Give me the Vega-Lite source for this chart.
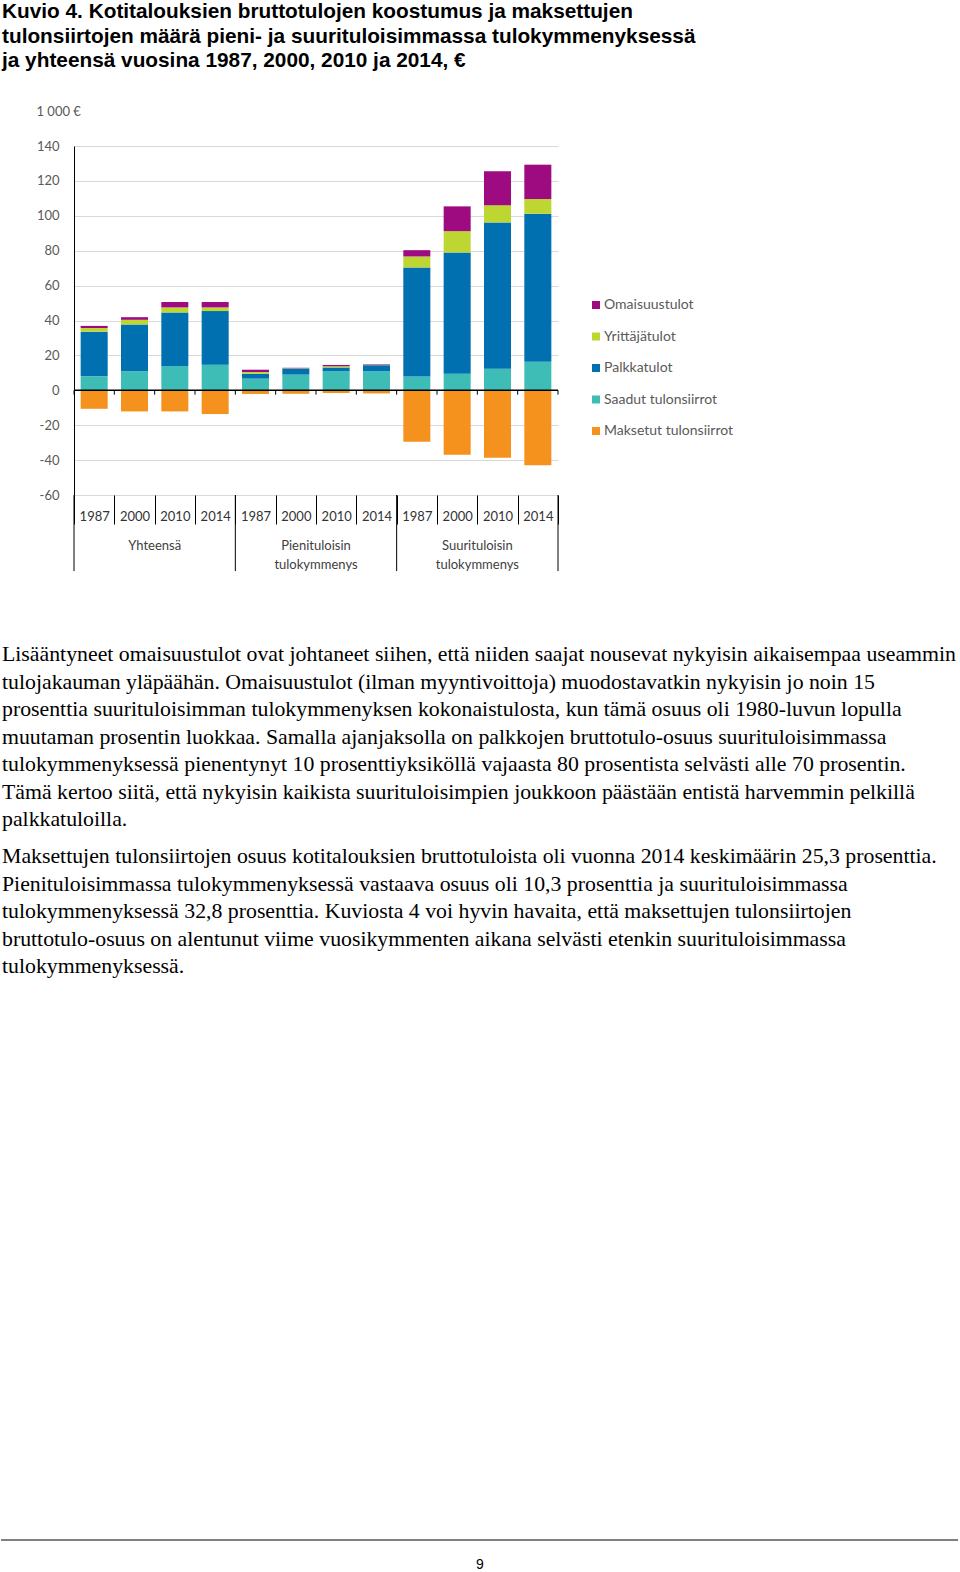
{
  "$schema": "https://vega.github.io/schema/vega-lite/v6.json",
  "background": "white",
  "padding": {"left": 0, "top": 1, "right": 0, "bottom": 0},
  "title": {
    "text": ["Kuvio 4. Kotitalouksien bruttotulojen koostumus ja maksettujen", "tulonsiirtojen määrä pieni- ja suurituloisimmassa tulokymmenyksessä", "ja yhteensä vuosina 1987, 2000, 2010 ja 2014, €"],
    "anchor": "start", "frame": "bounds", "dx": 2, "font": "Liberation Sans", "fontSize": 20.8, "fontWeight": "bold", "color": "black", "lineHeight": 24.5, "offset": 33
  },
  "datasets": {
    "bars": [
      {"key": "Yhteensä 1987", "component": "Saadut tulonsiirrot", "ord": 1, "value": 8.0},
      {"key": "Yhteensä 1987", "component": "Palkkatulot", "ord": 2, "value": 25.6},
      {"key": "Yhteensä 1987", "component": "Yrittäjätulot", "ord": 3, "value": 2.1},
      {"key": "Yhteensä 1987", "component": "Omaisuustulot", "ord": 4, "value": 1.2},
      {"key": "Yhteensä 1987", "component": "Maksetut tulonsiirrot", "ord": 5, "value": -10.6},
      {"key": "Yhteensä 2000", "component": "Saadut tulonsiirrot", "ord": 1, "value": 10.9},
      {"key": "Yhteensä 2000", "component": "Palkkatulot", "ord": 2, "value": 26.8},
      {"key": "Yhteensä 2000", "component": "Yrittäjätulot", "ord": 3, "value": 2.7},
      {"key": "Yhteensä 2000", "component": "Omaisuustulot", "ord": 4, "value": 1.5},
      {"key": "Yhteensä 2000", "component": "Maksetut tulonsiirrot", "ord": 5, "value": -12.1},
      {"key": "Yhteensä 2010", "component": "Saadut tulonsiirrot", "ord": 1, "value": 13.8},
      {"key": "Yhteensä 2010", "component": "Palkkatulot", "ord": 2, "value": 30.8},
      {"key": "Yhteensä 2010", "component": "Yrittäjätulot", "ord": 3, "value": 2.9},
      {"key": "Yhteensä 2010", "component": "Omaisuustulot", "ord": 4, "value": 3.1},
      {"key": "Yhteensä 2010", "component": "Maksetut tulonsiirrot", "ord": 5, "value": -12.1},
      {"key": "Yhteensä 2014", "component": "Saadut tulonsiirrot", "ord": 1, "value": 14.7},
      {"key": "Yhteensä 2014", "component": "Palkkatulot", "ord": 2, "value": 30.7},
      {"key": "Yhteensä 2014", "component": "Yrittäjätulot", "ord": 3, "value": 2.1},
      {"key": "Yhteensä 2014", "component": "Omaisuustulot", "ord": 4, "value": 3.1},
      {"key": "Yhteensä 2014", "component": "Maksetut tulonsiirrot", "ord": 5, "value": -13.6},
      {"key": "Pienituloisin 1987", "component": "Saadut tulonsiirrot", "ord": 1, "value": 6.7},
      {"key": "Pienituloisin 1987", "component": "Palkkatulot", "ord": 2, "value": 2.8},
      {"key": "Pienituloisin 1987", "component": "Yrittäjätulot", "ord": 3, "value": 1.0},
      {"key": "Pienituloisin 1987", "component": "Omaisuustulot", "ord": 4, "value": 1.3},
      {"key": "Pienituloisin 1987", "component": "Maksetut tulonsiirrot", "ord": 5, "value": -2.1},
      {"key": "Pienituloisin 2000", "component": "Saadut tulonsiirrot", "ord": 1, "value": 9.0},
      {"key": "Pienituloisin 2000", "component": "Palkkatulot", "ord": 2, "value": 3.4},
      {"key": "Pienituloisin 2000", "component": "Yrittäjätulot", "ord": 3, "value": 0.2},
      {"key": "Pienituloisin 2000", "component": "Omaisuustulot", "ord": 4, "value": 0.3},
      {"key": "Pienituloisin 2000", "component": "Maksetut tulonsiirrot", "ord": 5, "value": -2.0},
      {"key": "Pienituloisin 2010", "component": "Saadut tulonsiirrot", "ord": 1, "value": 10.9},
      {"key": "Pienituloisin 2010", "component": "Palkkatulot", "ord": 2, "value": 2.2},
      {"key": "Pienituloisin 2010", "component": "Yrittäjätulot", "ord": 3, "value": 0.7},
      {"key": "Pienituloisin 2010", "component": "Omaisuustulot", "ord": 4, "value": 0.7},
      {"key": "Pienituloisin 2010", "component": "Maksetut tulonsiirrot", "ord": 5, "value": -1.6},
      {"key": "Pienituloisin 2014", "component": "Saadut tulonsiirrot", "ord": 1, "value": 10.9},
      {"key": "Pienituloisin 2014", "component": "Palkkatulot", "ord": 2, "value": 3.5},
      {"key": "Pienituloisin 2014", "component": "Yrittäjätulot", "ord": 3, "value": 0.2},
      {"key": "Pienituloisin 2014", "component": "Omaisuustulot", "ord": 4, "value": 0.3},
      {"key": "Pienituloisin 2014", "component": "Maksetut tulonsiirrot", "ord": 5, "value": -1.8},
      {"key": "Suurituloisin 1987", "component": "Saadut tulonsiirrot", "ord": 1, "value": 7.9},
      {"key": "Suurituloisin 1987", "component": "Palkkatulot", "ord": 2, "value": 62.5},
      {"key": "Suurituloisin 1987", "component": "Yrittäjätulot", "ord": 3, "value": 6.3},
      {"key": "Suurituloisin 1987", "component": "Omaisuustulot", "ord": 4, "value": 3.6},
      {"key": "Suurituloisin 1987", "component": "Maksetut tulonsiirrot", "ord": 5, "value": -29.5},
      {"key": "Suurituloisin 2000", "component": "Saadut tulonsiirrot", "ord": 1, "value": 9.5},
      {"key": "Suurituloisin 2000", "component": "Palkkatulot", "ord": 2, "value": 69.5},
      {"key": "Suurituloisin 2000", "component": "Yrittäjätulot", "ord": 3, "value": 12.2},
      {"key": "Suurituloisin 2000", "component": "Omaisuustulot", "ord": 4, "value": 14.2},
      {"key": "Suurituloisin 2000", "component": "Maksetut tulonsiirrot", "ord": 5, "value": -36.9},
      {"key": "Suurituloisin 2010", "component": "Saadut tulonsiirrot", "ord": 1, "value": 12.4},
      {"key": "Suurituloisin 2010", "component": "Palkkatulot", "ord": 2, "value": 83.8},
      {"key": "Suurituloisin 2010", "component": "Yrittäjätulot", "ord": 3, "value": 9.9},
      {"key": "Suurituloisin 2010", "component": "Omaisuustulot", "ord": 4, "value": 19.4},
      {"key": "Suurituloisin 2010", "component": "Maksetut tulonsiirrot", "ord": 5, "value": -38.6},
      {"key": "Suurituloisin 2014", "component": "Saadut tulonsiirrot", "ord": 1, "value": 16.3},
      {"key": "Suurituloisin 2014", "component": "Palkkatulot", "ord": 2, "value": 84.9},
      {"key": "Suurituloisin 2014", "component": "Yrittäjätulot", "ord": 3, "value": 8.4},
      {"key": "Suurituloisin 2014", "component": "Omaisuustulot", "ord": 4, "value": 19.7},
      {"key": "Suurituloisin 2014", "component": "Maksetut tulonsiirrot", "ord": 5, "value": -42.9}
    ],
    "groups": [
      {"key": "Yhteensä 2000", "label": "Yhteensä"},
      {"key": "Pienituloisin 2000", "label": "Pienituloisin\ntulokymmenys"},
      {"key": "Suurituloisin 2000", "label": "Suurituloisin\ntulokymmenys"}
    ],
    "groupStarts": [
      {"key": "Yhteensä 1987"},
      {"key": "Pienituloisin 1987"},
      {"key": "Suurituloisin 1987"}
    ],
    "lastKey": [
      {"key": "Suurituloisin 2014"}
    ]
  },
  "resolve": {"scale": {"x": "independent", "y": "independent"}, "legend": {"color": "independent"}},
  "spacing": 560,
  "vconcat": [
    {
      "width": 484,
      "height": 349,
      "title": {
        "text": [
          "Lisääntyneet omaisuustulot ovat johtaneet siihen, että niiden saajat nousevat nykyisin aikaisempaa useammin",
          "tulojakauman yläpäähän. Omaisuustulot (ilman myyntivoittoja) muodostavatkin nykyisin jo noin 15",
          "prosenttia suurituloisimman tulokymmenyksen kokonaistulosta, kun tämä osuus oli 1980-luvun lopulla",
          "muutaman prosentin luokkaa. Samalla ajanjaksolla on palkkojen bruttotulo-osuus suurituloisimmassa",
          "tulokymmenyksessä pienentynyt 10 prosenttiyksiköllä vajaasta 80 prosentista selvästi alle 70 prosentin.",
          "Tämä kertoo siitä, että nykyisin kaikista suurituloisimpien joukkoon päästään entistä harvemmin pelkillä",
          "palkkatuloilla."
        ],
        "subtitle": [
          "Maksettujen tulonsiirtojen osuus kotitalouksien bruttotuloista oli vuonna 2014 keskimäärin 25,3 prosenttia.",
          "Pienituloisimmassa tulokymmenyksessä vastaava osuus oli 10,3 prosenttia ja suurituloisimmassa",
          "tulokymmenyksessä 32,8 prosenttia. Kuviosta 4 voi hyvin havaita, että maksettujen tulonsiirtojen",
          "bruttotulo-osuus on alentunut viime vuosikymmenten aikana selvästi etenkin suurituloisimmassa",
          "tulokymmenyksessä."
        ],
        "orient": "bottom", "anchor": "start", "frame": "group", "dx": -72, "offset": 72,
        "font": "Liberation Serif", "fontSize": 21.8, "fontWeight": "normal", "color": "black", "lineHeight": 27.5,
        "subtitleFont": "Liberation Serif", "subtitleFontSize": 21.8, "subtitleColor": "black", "subtitleLineHeight": 27.5, "subtitlePadding": 15.5
      },
      "layer": [
        {
          "data": {"name": "bars"},
          "mark": {"type": "bar", "width": {"band": 0.67}},
          "encoding": {
            "x": {
              "field": "key", "type": "nominal",
              "scale": {"domain": ["Yhteensä 1987", "Yhteensä 2000", "Yhteensä 2010", "Yhteensä 2014", "Pienituloisin 1987", "Pienituloisin 2000", "Pienituloisin 2010", "Pienituloisin 2014", "Suurituloisin 1987", "Suurituloisin 2000", "Suurituloisin 2010", "Suurituloisin 2014"], "paddingInner": 0, "paddingOuter": 0},
              "axis": {"title": null, "labelExpr": "slice(datum.label, -4)", "tickBand": "extent", "tickSize": 29, "tickColor": "black", "domain": false, "grid": false, "labelAngle": 0, "labelFont": "Lato", "labelFontSize": 13, "labelColor": "#333333", "labelPadding": -14, "labelBaseline": "top"}
            },
            "y": {
              "field": "value", "type": "quantitative", "stack": "zero",
              "scale": {"domain": [-60, 140], "nice": false, "zero": false},
              "axis": {"title": "1 000 €", "titleAngle": 0, "titleAlign": "left", "titleBaseline": "middle", "titleX": -38, "titleY": -35, "titleFont": "Lato", "titleFontSize": 13, "titleFontWeight": "normal", "titleColor": "#595959", "values": [-60, -40, -20, 0, 20, 40, 60, 80, 100, 120, 140], "tickCount": 11, "labelOverlap": false, "labelExpr": "replace(datum.label, '−', '-')", "ticks": false, "labelPadding": 15, "labelFont": "Lato", "labelFontSize": 13, "labelColor": "#595959", "domainColor": "black", "domainWidth": 1, "grid": true, "gridColor": "#d9d9d9"}
            },
            "color": {
              "field": "component", "type": "nominal",
              "scale": {"domain": ["Omaisuustulot", "Yrittäjätulot", "Palkkatulot", "Saadut tulonsiirrot", "Maksetut tulonsiirrot"], "range": ["#9e0a80", "#bdd631", "#0070b0", "#3dbdb6", "#f5921e"]},
              "legend": {"title": null, "orient": "none", "legendX": 515, "legendY": 152, "symbolType": "square", "symbolSize": 64, "symbolStrokeWidth": 0, "labelFont": "Lato", "labelFontSize": 14, "labelColor": "#595959", "rowPadding": 17.5, "labelOffset": 1}
            },
            "order": {"field": "ord", "type": "quantitative"}
          }
        },
        {
          "data": {"values": [{}]},
          "mark": {"type": "rule", "color": "black", "strokeWidth": 1.5},
          "encoding": {"y": {"datum": 0}}
        },
        {
          "data": {"name": "bars"},
          "transform": [{"filter": "datum.ord == 1"}],
          "mark": {"type": "rule", "color": "black"},
          "encoding": {"x": {"field": "key", "type": "nominal", "bandPosition": 0}, "y": {"datum": 0}, "y2": {"datum": -2.5}}
        },
        {
          "data": {"name": "lastKey"},
          "mark": {"type": "rule", "color": "black"},
          "encoding": {"x": {"field": "key", "type": "nominal", "bandPosition": 1}, "y": {"datum": 0}, "y2": {"datum": -2.5}}
        },
        {
          "data": {"name": "groupStarts"},
          "mark": {"type": "rule", "color": "black"},
          "encoding": {"x": {"field": "key", "type": "nominal", "bandPosition": 0}, "y": {"datum": -60}, "y2": {"datum": -103.6}}
        },
        {
          "data": {"name": "lastKey"},
          "mark": {"type": "rule", "color": "black"},
          "encoding": {"x": {"field": "key", "type": "nominal", "bandPosition": 1}, "y": {"datum": -60}, "y2": {"datum": -103.6}}
        },
        {
          "data": {"name": "groups"},
          "mark": {"type": "text", "baseline": "top", "align": "center", "lineBreak": "\n", "lineHeight": 19, "font": "Lato", "fontSize": 13, "color": "#404040", "dy": 45},
          "encoding": {"x": {"field": "key", "type": "nominal", "bandPosition": 1}, "y": {"datum": -60}, "text": {"field": "label"}}
        }
      ]
    },
    {
      "width": 884,
      "height": 25,
      "layer": [
        {
          "data": {"values": [{}]},
          "mark": {"type": "rule", "color": "#808080", "strokeWidth": 2},
          "encoding": {
            "x": {"datum": -73, "type": "quantitative", "scale": {"domain": [0, 884], "nice": false, "zero": false}, "axis": null},
            "x2": {"datum": 884},
            "y": {"datum": 1, "type": "quantitative", "scale": {"domain": [0, 1], "nice": false}, "axis": null}
          }
        },
        {
          "data": {"values": [{"page": "9"}]},
          "mark": {"type": "text", "font": "Liberation Sans", "fontSize": 14, "baseline": "middle", "align": "center"},
          "encoding": {"text": {"field": "page"}, "x": {"datum": 406, "type": "quantitative"}, "y": {"datum": 0, "type": "quantitative"}}
        }
      ]
    }
  ],
  "config": {"view": {"stroke": null}}
}
